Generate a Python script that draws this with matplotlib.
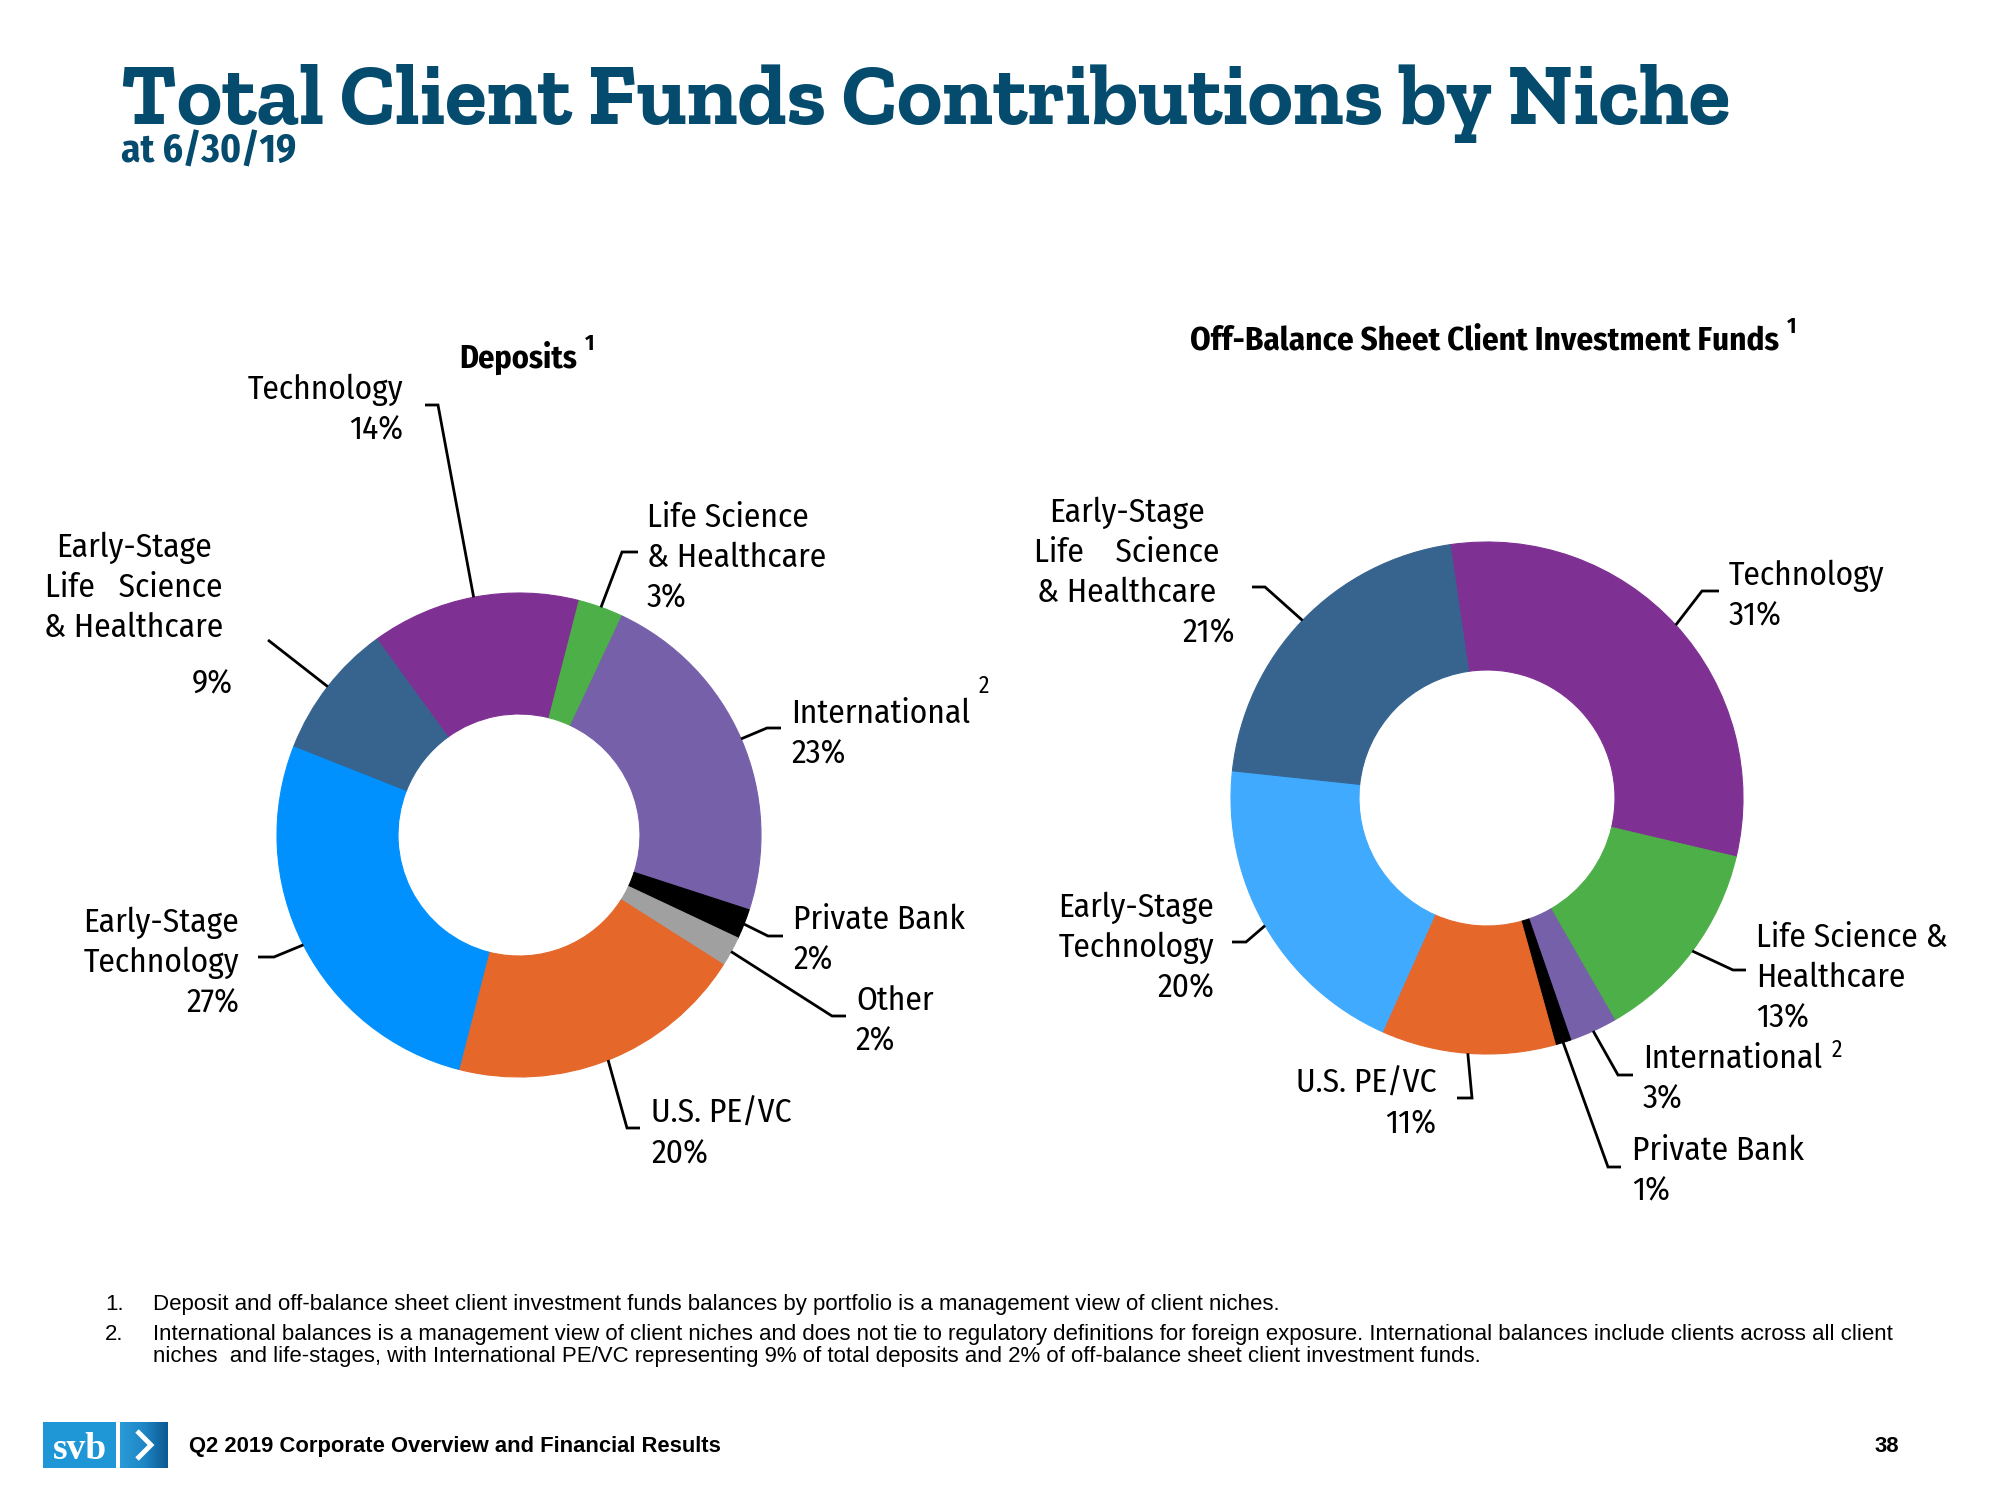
import matplotlib
matplotlib.use("Agg")
import numpy as np
import matplotlib.pyplot as plt
from matplotlib import font_manager as fm
from matplotlib.patches import Rectangle
from matplotlib.colors import LinearSegmentedColormap

# ---- fonts (first installed one wins) ----
AVAIL = {f.name for f in fm.fontManager.ttflist}


def pick(*names):
    for n in names:
        if n in AVAIL:
            return n
    return "DejaVu Sans"


SANS = pick("Fira Sans Condensed", "Roboto Condensed", "Liberation Sans Narrow", "DejaVu Sans")
SLAB = pick("Zilla Slab", "Kreon", "Bitter", "Rokkitt", "Roboto Slab", "DejaVu Serif")
ARIAL = pick("Liberation Sans", "Arial", "DejaVu Sans")
SERIF = pick("Liberation Serif", "DejaVu Serif")

NAVY = "#044B6E"

# ---- data ----
DEP_LABELS = ["Technology", "Life Science\n& Healthcare", "International", "Private Bank",
              "Other", "U.S. PE/VC", "Early-Stage\nTechnology",
              "Early-Stage\nLife   Science\n& Healthcare"]
DEP_VALUES = [14, 3, 23, 2, 2, 20, 27, 9]
DEP_COLORS = ["#7F3193", "#4DAF47", "#7660AA", "#000000", "#A0A0A0", "#E5672A", "#0091FF", "#36648F"]

OFF_LABELS = ["Technology", "Life Science &\nHealthcare", "International", "Private Bank",
              "U.S. PE/VC", "Early-Stage\nTechnology", "Early-Stage\nLife    Science\n& Healthcare"]
OFF_VALUES = [31, 13, 3, 1, 11, 20, 21]
OFF_COLORS = ["#7F3193", "#4DAF47", "#7660AA", "#000000", "#E5672A", "#40AAFF", "#36648F"]

FOOTNOTE_1 = "Deposit and off-balance sheet client investment funds balances by portfolio is a management view of client niches."
FOOTNOTE_2 = ["International balances is a management view of client niches and does not tie to regulatory definitions for foreign exposure. International balances include clients across all client",
              "niches  and life-stages, with International PE/VC representing 9% of total deposits and 2% of off-balance sheet client investment funds."]

# ---- layout (pixel coords, y measured from the top) ----
# per slice: text x, first baseline, alignment, leader elbow, leader end
LEFT_LAYOUT = [
    (403, 399, "right", (438, 405), (425, 405)),
    (647, 527, "left", (622, 552), (638, 552)),
    (791, 723, "left", (767, 728), (781, 728)),
    (793, 929, "left", (768, 936), (783, 936)),
    (856, 1010, "left", (832, 1016), (846, 1016)),
    (651, 1123, "left", (627, 1128), (640, 1128)),
    (239, 932, "right", (274, 957), (258, 957)),
    (134, 557, "center", (268, 640), (268, 640)),
]
RIGHT_LAYOUT = [
    (1729, 585, "left", (1702, 591), (1719, 591)),
    (1756, 947, "left", (1733, 970), (1746, 970)),
    (1643, 1068, "left", (1618, 1075), (1633, 1075)),
    (1632, 1160, "left", (1608, 1167), (1621, 1167)),
    (1436, 1093, "right", (1472, 1098), (1457, 1098)),
    (1214, 917, "right", (1246, 942), (1232, 942)),
    (1127, 522, "center", (1265, 587), (1252, 587)),
]
# percentage of the last (centred) label sits apart, right aligned
LEFT_PCT = (233, 693)
RIGHT_PCT = (1235, 642)

LABEL_SIZE = 24
GAP = 40

fig = plt.figure(figsize=(20, 15), dpi=100)
ax = fig.add_axes([0, 0, 1, 1])
renderer = fig.canvas.get_renderer()


def fit_width(t, width):
    w = t.get_window_extent(renderer).width
    t.set_fontsize(t.get_fontsize() * width / w)
    return t


def donut(values, colors, center, radius, start):
    # y axis is inverted, so counterclock in data space = clockwise on screen
    wedges, _ = ax.pie(values, colors=colors, center=center, radius=radius,
                       startangle=-start, counterclock=True,
                       wedgeprops=dict(width=radius * 0.5, linewidth=0.8))
    for w in wedges:
        w.set_edgecolor(w.get_facecolor())
    return wedges


def labels(wedges, names, values, layout, center, radius, pct_pos):
    cx, cy = center
    for w, name, val, lay in zip(wedges, names, values, layout):
        x, y0, ha, elbow, end = lay
        th = np.deg2rad((w.theta1 + w.theta2) / 2)
        px, py = cx + radius * np.cos(th), cy + radius * np.sin(th)
        ax.plot([px, elbow[0], end[0]], [py, elbow[1], end[1]], color="black", lw=2.0,
                solid_joinstyle="miter", solid_capstyle="butt", zorder=3)
        lines = name.split("\n")
        for i, ln in enumerate(lines):
            ax.text(x, y0 + i * GAP, ln, ha=ha, va="baseline", fontsize=LABEL_SIZE, family=SANS)
        if ha == "center":
            ax.text(pct_pos[0], pct_pos[1], f"{val}%", ha="right", va="baseline",
                    fontsize=LABEL_SIZE, family=SANS)
        else:
            ax.text(x, y0 + len(lines) * GAP, f"{val}%", ha=ha, va="baseline",
                    fontsize=LABEL_SIZE, family=SANS)


LC, LR = (519, 835), 242
RC, RR = (1487, 798), 256

lw = donut(DEP_VALUES, DEP_COLORS, LC, LR, 126)
rw = donut(OFF_VALUES, OFF_COLORS, RC, RR, 98.3)
labels(lw, DEP_LABELS, DEP_VALUES, LEFT_LAYOUT, LC, LR, LEFT_PCT)
labels(rw, OFF_LABELS, OFF_VALUES, RIGHT_LAYOUT, RC, RR, RIGHT_PCT)

ax.set_xlim(0, 2000)
ax.set_ylim(1500, 0)
ax.set_aspect("equal")
ax.axis("off")

# superscripts
ax.text(984, 693, "2", ha="center", va="baseline", fontsize=17, family=SANS)
ax.text(1837, 1057, "2", ha="center", va="baseline", fontsize=17, family=SANS)

# chart titles
fit_width(ax.text(459, 368, "Deposits", ha="left", va="baseline", fontsize=22,
                  family=SANS, weight="bold"), 118)
fit_width(ax.text(1190, 350, "Off-Balance Sheet Client Investment Funds", ha="left", va="baseline",
                  fontsize=22, family=SANS, weight="bold"), 589)
ax.text(590, 350, "1", ha="center", va="baseline", fontsize=16, family=SANS, weight="bold")
ax.text(1792, 333, "1", ha="center", va="baseline", fontsize=16, family=SANS, weight="bold")

# page title
fit_width(ax.text(121, 124, "Total Client Funds Contributions by Niche", ha="left", va="baseline",
                  fontsize=60, family=SLAB, weight="bold", color=NAVY), 1610)
fit_width(ax.text(121, 163, "at 6/30/19", ha="left", va="baseline", fontsize=22,
                  family=SANS, weight="bold", color=NAVY), 175)

# footnotes
fn = fit_width(ax.text(153, 1310, FOOTNOTE_1, ha="left", va="baseline",
                       fontsize=15, family=ARIAL), 1128)
fs = fn.get_fontsize()
ax.text(105, 1310, "1.", ha="left", va="baseline", fontsize=fs, family=ARIAL)
ax.text(105, 1340, "2.", ha="left", va="baseline", fontsize=fs, family=ARIAL)
for ln, y in zip(FOOTNOTE_2, [1340, 1362]):
    ax.text(153, y, ln, ha="left", va="baseline", fontsize=fs, family=ARIAL)

# footer
ft = fit_width(ax.text(189, 1452, "Q2 2019 Corporate Overview and Financial Results", ha="left",
                       va="baseline", fontsize=15, family=ARIAL, weight="bold"), 535)
ax.text(1899, 1452, "38", ha="right", va="baseline", fontsize=ft.get_fontsize(),
        family=ARIAL, weight="bold")

# svb logo
ax.add_patch(Rectangle((43, 1422), 73, 46, facecolor="#1F96D6", edgecolor="none"))
grad = np.linspace(0, 1, 64).reshape(1, -1)
cm = LinearSegmentedColormap.from_list("svb", ["#2A9BD8", "#1F86C6", "#0B5A92"])
ax.imshow(grad, cmap=cm, extent=(120, 168, 1468, 1422), aspect="auto", zorder=1)
ax.text(80, 1459, "svb", ha="center", va="baseline", fontsize=27, family=SERIF,
        weight="bold", color="white")
ax.plot([137, 151, 137], [1431, 1445, 1459], color="white", lw=3.5, solid_joinstyle="miter",
        solid_capstyle="butt")

ax.set_xlim(0, 2000)
ax.set_ylim(1500, 0)

fig.savefig("out.png", dpi=100, facecolor="white")
